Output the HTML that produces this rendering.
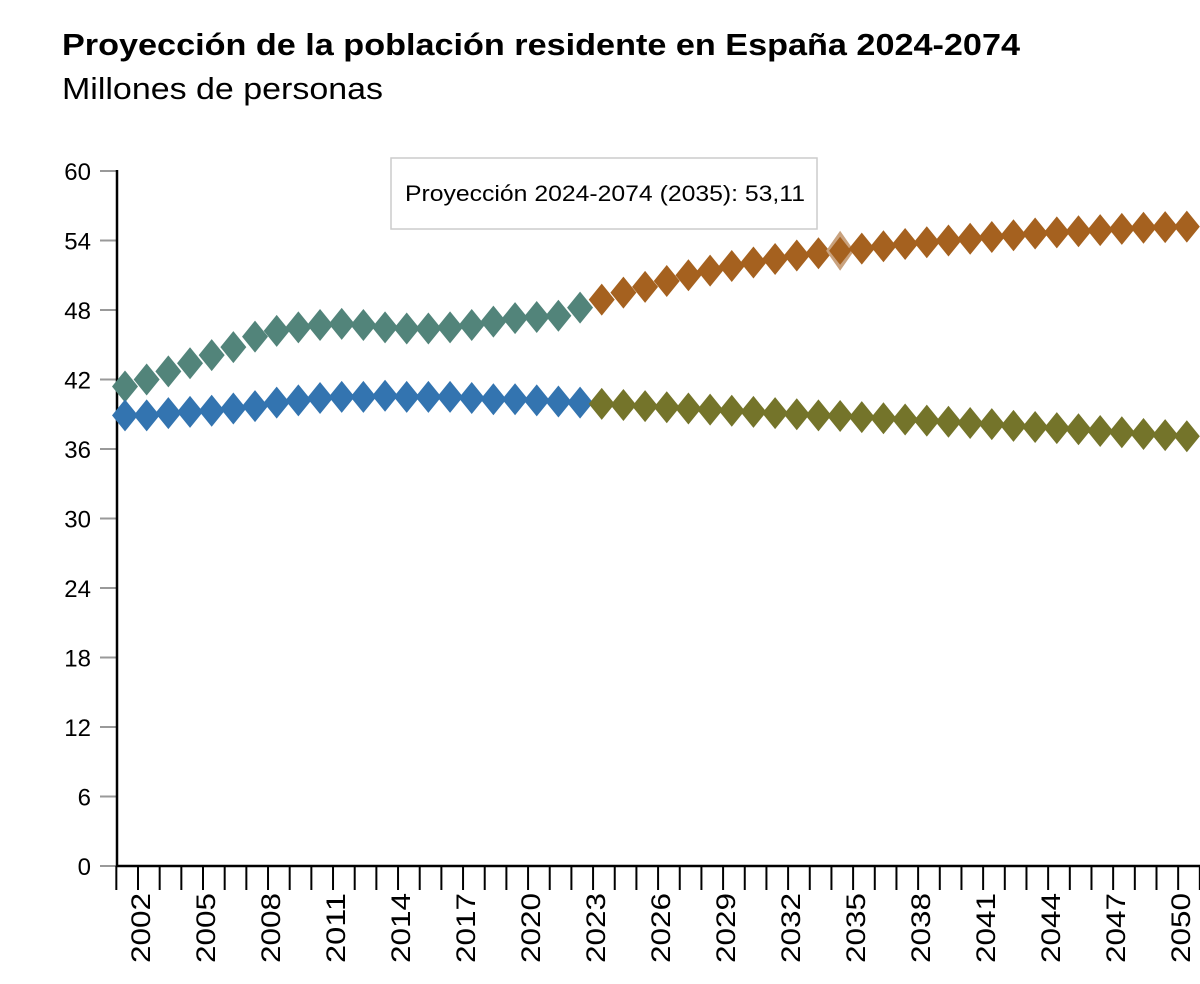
<!DOCTYPE html>
<html><head><meta charset="utf-8"><style>
body{margin:0;background:#fff;width:1200px;height:984px;overflow:hidden;font-family:"Liberation Sans",sans-serif}
</style></head><body>
<svg width="1200" height="984" style="position:absolute;left:0;top:0">
<text x="62" y="55" font-size="31" font-weight="bold" fill="#000" textLength="958" lengthAdjust="spacingAndGlyphs">Proyección de la población residente en España 2024-2074</text>
<text x="62" y="99" font-size="31" fill="#000" textLength="321" lengthAdjust="spacingAndGlyphs">Millones de personas</text>
<g id="axes"></g>
<g id="marks"></g>
<g>
<rect x="391" y="158" width="426" height="71" fill="#fff" stroke="#ccc" stroke-width="1.5"/>
<text x="405" y="201" font-size="22" fill="#000" textLength="400" lengthAdjust="spacingAndGlyphs">Proyección 2024-2074 (2035): 53,11</text>
</g>
</svg>
<script>
const yTicks=[0,6,12,18,24,30,36,42,48,54,60];
const histYears=[2002,2003,2004,2005,2006,2007,2008,2009,2010,2011,2012,2013,2014,2015,2016,2017,2018,2019,2020,2021,2022,2023];
const histTotal=[41.4,42.0,42.7,43.4,44.1,44.8,45.7,46.2,46.5,46.7,46.8,46.7,46.5,46.4,46.4,46.5,46.7,47.0,47.3,47.4,47.5,48.2];
const histSpanish=[38.9,38.9,39.1,39.2,39.3,39.5,39.7,40.0,40.2,40.4,40.5,40.5,40.6,40.5,40.5,40.5,40.4,40.3,40.3,40.2,40.1,40.0];
const projYears=[2024,2025,2026,2027,2028,2029,2030,2031,2032,2033,2034,2035,2036,2037,2038,2039,2040,2041,2042,2043,2044,2045,2046,2047,2048,2049,2050,2051];
const projTotal=[48.9,49.5,50.0,50.5,51.0,51.4,51.8,52.1,52.4,52.7,52.9,53.11,53.3,53.5,53.7,53.85,54.0,54.15,54.3,54.45,54.6,54.7,54.8,54.9,55.0,55.1,55.15,55.2];
const projSpanish=[39.9,39.8,39.7,39.6,39.5,39.4,39.3,39.2,39.1,39.0,38.9,38.85,38.75,38.65,38.55,38.45,38.35,38.25,38.15,38.0,37.9,37.8,37.7,37.55,37.45,37.3,37.2,37.1];
const highlightYear=2035;
const NS="http://www.w3.org/2000/svg";
const xp=y=>125+(y-2002)*21.67;
const yp=v=>866-v*(695/60);
const axes=document.getElementById('axes'),marks=document.getElementById('marks');
function mk(tag,attrs,parent){const e=document.createElementNS(NS,tag);for(const k in attrs)e.setAttribute(k,attrs[k]);parent.appendChild(e);return e;}
yTicks.forEach(t=>{
  const l=mk('line',{x1:100,x2:117,y1:yp(t),y2:yp(t),stroke:'#999','stroke-width':2},axes);
  
  
  const tx=mk('text',{x:91,y:yp(t)+9,'font-size':24,'text-anchor':'end',fill:'#000'},axes);
  tx.textContent=t;
  
  
});
const ya=mk('line',{x1:117,x2:117,y1:170,y2:867,stroke:'#000','stroke-width':2.5},axes);


const xa=mk('line',{x1:116,x2:1200,y1:866,y2:866,stroke:'#000','stroke-width':2.5},axes);


for(let y=2001;y<=2051;y++){
  const tx0=xp(y)+13;
  const l=mk('line',{x1:tx0,x2:tx0,y1:866,y2:890,stroke:'#000','stroke-width':2},axes);
  
  
  if((y-2002)%3===0){
    const t=mk('text',{x:0,y:0,'font-size':27,'text-anchor':'end',fill:'#000',textLength:70,lengthAdjust:'spacingAndGlyphs',transform:`translate(${tx0+12},893) rotate(-90)`},axes);
    t.textContent=y;
    
    
  }
}
function series(years,vals,color,name){
  years.forEach((yr,i)=>{
    const x=xp(yr),y=yp(vals[i]);
    const p=mk('polygon',{points:`${x-13},${y} ${x},${y-16} ${x+13},${y} ${x},${y+16}`,fill:color},marks);
    
    
    if(yr===highlightYear&&name==='proj-total'){p.setAttribute('fill','#c9a27e');p.setAttribute('points',`${x-14},${y} ${x},${y-20} ${x+14},${y} ${x},${y+20}`);
      const q=mk('polygon',{points:`${x-11},${y} ${x},${y-14} ${x+11},${y} ${x},${y+14}`,fill:color},marks);
      
      }
  });
}
series(histYears,histTotal,'#52847a','hist-total');
series(histYears,histSpanish,'#3374b0','hist-spanish');
series(projYears,projTotal,'#a5611f','proj-total');
series(projYears,projSpanish,'#74742a','proj-spanish');
</script>
</body></html>
